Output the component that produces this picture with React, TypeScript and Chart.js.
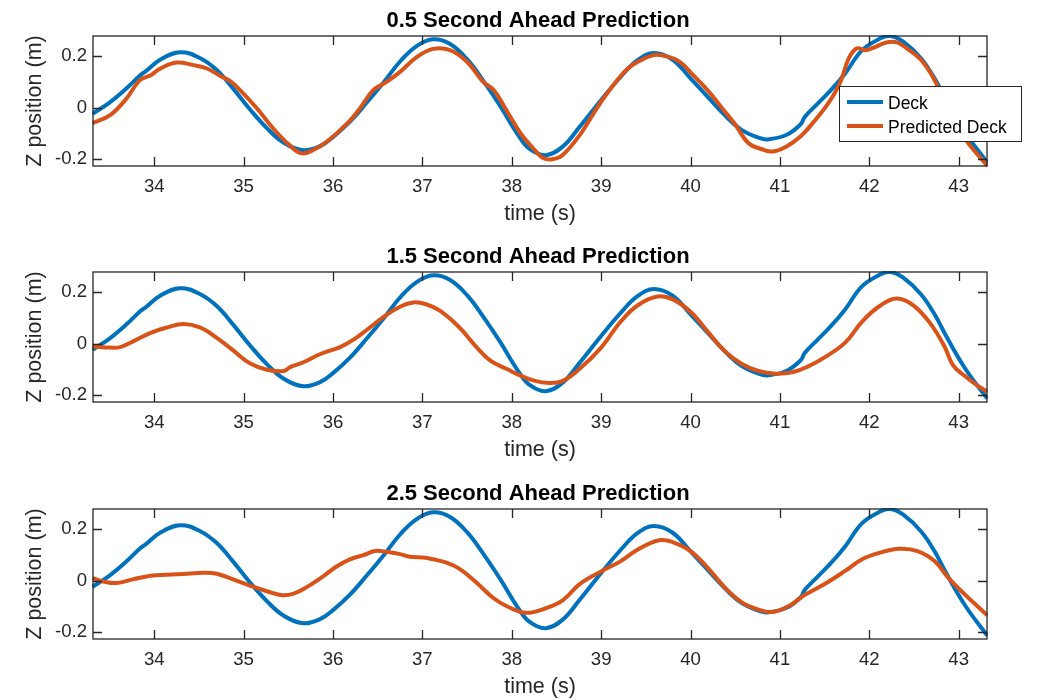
import React, { useEffect, useRef } from "react";
import { Chart, registerables } from "chart.js";

Chart.register(...registerables);

// ---------- data ----------
const deckTime = [33.31, 33.5, 33.69, 33.84, 33.9, 34.07, 34.29, 34.51, 34.7, 34.89, 35.07, 35.26, 35.45, 35.67, 35.86, 36.01, 36.19, 36.38, 36.57, 36.76, 36.94, 37.12, 37.31, 37.5, 37.68, 37.87, 38.07, 38.2, 38.38, 38.57, 38.76, 39.0, 39.22, 39.41, 39.59, 39.8, 40.0, 40.19, 40.38, 40.57, 40.76, 40.86, 41.07, 41.23, 41.28, 41.42, 41.57, 41.73, 41.92, 42.12, 42.23, 42.38, 42.58, 42.73, 42.88, 43.08, 43.32];
const deckZ = [-0.024, 0.02, 0.075, 0.125, 0.14, 0.187, 0.215, 0.193, 0.146, 0.071, -0.006, -0.079, -0.136, -0.165, -0.148, -0.111, -0.054, 0.021, 0.1, 0.183, 0.24, 0.265, 0.247, 0.188, 0.105, 0.007, -0.105, -0.16, -0.184, -0.151, -0.074, 0.03, 0.12, 0.185, 0.212, 0.186, 0.114, 0.043, -0.028, -0.086, -0.116, -0.123, -0.106, -0.065, -0.035, 0.015, 0.068, 0.133, 0.223, 0.268, 0.279, 0.256, 0.191, 0.114, 0.017, -0.1, -0.213];

const pred05Time = [33.31, 33.51, 33.69, 33.84, 33.96, 34.07, 34.25, 34.44, 34.59, 34.74, 34.85, 34.96, 35.15, 35.33, 35.52, 35.65, 35.78, 35.93, 36.16, 36.3, 36.45, 36.6, 36.75, 36.94, 37.12, 37.31, 37.5, 37.68, 37.8, 37.94, 38.1, 38.26, 38.35, 38.45, 38.57, 38.76, 39.0, 39.26, 39.41, 39.59, 39.72, 39.88, 40.03, 40.19, 40.34, 40.49, 40.65, 40.8, 40.92, 41.07, 41.23, 41.38, 41.54, 41.67, 41.77, 41.86, 41.96, 42.07, 42.19, 42.31, 42.42, 42.58, 42.73, 42.88, 43.08, 43.32];
const pred05Z = [-0.06, -0.028, 0.036, 0.107, 0.126, 0.152, 0.175, 0.165, 0.152, 0.123, 0.103, 0.068, -0.003, -0.08, -0.147, -0.177, -0.164, -0.132, -0.061, -0.003, 0.068, 0.1, 0.139, 0.197, 0.228, 0.223, 0.178, 0.1, 0.068, -0.01, -0.1, -0.165, -0.195, -0.2, -0.183, -0.106, 0.023, 0.139, 0.178, 0.204, 0.2, 0.178, 0.126, 0.068, 0.004, -0.06, -0.138, -0.161, -0.17, -0.151, -0.112, -0.054, 0.017, 0.094, 0.191, 0.23, 0.223, 0.236, 0.253, 0.253, 0.23, 0.185, 0.107, -0.01, -0.125, -0.225];

const pred15Time = [33.31, 33.51, 33.62, 33.77, 33.96, 34.14, 34.33, 34.51, 34.7, 34.89, 35.07, 35.26, 35.45, 35.52, 35.67, 35.86, 36.08, 36.23, 36.38, 36.57, 36.75, 36.9, 37.05, 37.2, 37.42, 37.61, 37.76, 37.94, 38.1, 38.26, 38.41, 38.57, 38.76, 39.0, 39.22, 39.41, 39.63, 39.8, 40.0, 40.19, 40.38, 40.57, 40.76, 40.96, 41.15, 41.3, 41.5, 41.73, 41.92, 42.12, 42.31, 42.5, 42.69, 42.84, 42.94, 43.08, 43.2, 43.32];
const pred15Z = [-0.011, -0.015, -0.013, 0.01, 0.042, 0.063, 0.076, 0.063, 0.023, -0.028, -0.076, -0.101, -0.106, -0.091, -0.072, -0.04, -0.013, 0.016, 0.054, 0.105, 0.143, 0.16, 0.152, 0.127, 0.061, -0.015, -0.066, -0.097, -0.124, -0.144, -0.152, -0.144, -0.097, -0.015, 0.086, 0.149, 0.183, 0.172, 0.124, 0.048, -0.028, -0.078, -0.106, -0.116, -0.11, -0.091, -0.053, 0.004, 0.086, 0.147, 0.175, 0.147, 0.075, -0.01, -0.085, -0.128, -0.16, -0.186];

const pred25Time = [33.31, 33.43, 33.58, 33.77, 33.96, 34.14, 34.37, 34.55, 34.7, 34.89, 35.07, 35.26, 35.43, 35.56, 35.71, 35.89, 36.04, 36.19, 36.34, 36.47, 36.6, 36.75, 36.86, 37.01, 37.12, 37.27, 37.42, 37.61, 37.79, 37.94, 38.15, 38.37, 38.57, 38.76, 39.0, 39.22, 39.41, 39.65, 39.8, 40.0, 40.19, 40.38, 40.57, 40.76, 40.92, 41.11, 41.27, 41.5, 41.73, 41.92, 42.11, 42.34, 42.54, 42.73, 42.88, 43.08, 43.32];
const pred25Z = [0.01, -0.003, -0.009, 0.006, 0.019, 0.023, 0.027, 0.031, 0.027, 0.004, -0.019, -0.041, -0.056, -0.05, -0.024, 0.017, 0.055, 0.083, 0.099, 0.115, 0.112, 0.103, 0.093, 0.09, 0.083, 0.07, 0.045, -0.009, -0.066, -0.098, -0.124, -0.108, -0.076, -0.013, 0.036, 0.076, 0.121, 0.157, 0.15, 0.115, 0.051, -0.025, -0.083, -0.112, -0.121, -0.096, -0.057, -0.013, 0.038, 0.083, 0.108, 0.124, 0.115, 0.076, 0.013, -0.057, -0.134];

const panelTitles = ["0.5 Second Ahead Prediction", "1.5 Second Ahead Prediction", "2.5 Second Ahead Prediction"];
const seriesNames = ["Deck", "Predicted Deck"];
const xTicks = [34, 35, 36, 37, 38, 39, 40, 41, 42, 43];
const xTickLabels = ["34", "35", "36", "37", "38", "39", "40", "41", "42", "43"];
const yTicks = [-0.2, 0, 0.2];
const yTickLabels = ["-0.2", "0", "0.2"];
const xLimits = [33.315, 43.317];
const yLimits = [-0.226, 0.278];
const xAxisTitle = "time (s)";
const yAxisTitle = "Z position (m)";

// ---------- style ----------
const FONT = "'Liberation Sans', Arial, Helvetica, sans-serif";
const AX = "#262626";
const BLUE = "#0072BD";
const ORANGE = "#D95319";
const CW = 1038;
const CH = 237;

const toPts = (t: number[], z: number[]) => t.map((x, i) => ({ x, y: z[i] }));

const framePlugin = {
  id: "matlabFrame",
  afterDatasetsDraw(chart: any) {
    const { ctx, chartArea } = chart;
    const { left, right, top, bottom } = chartArea;
    const xs = chart.scales.x;
    const ys = chart.scales.y;
    const tl = 9;
    ctx.save();
    ctx.strokeStyle = AX;
    ctx.lineWidth = 1.3;
    ctx.beginPath();
    for (const v of xTicks) {
      const px = Math.round(xs.getPixelForValue(v)) + 0.5;
      ctx.moveTo(px, bottom);
      ctx.lineTo(px, bottom - tl);
      ctx.moveTo(px, top);
      ctx.lineTo(px, top + tl);
    }
    for (const v of yTicks) {
      const py = Math.round(ys.getPixelForValue(v)) + 0.5;
      ctx.moveTo(left, py);
      ctx.lineTo(left + tl, py);
      ctx.moveTo(right, py);
      ctx.lineTo(right - tl, py);
    }
    ctx.stroke();
    ctx.strokeRect(left, top, right - left, bottom - top);
    ctx.restore();
  },
};

const titlePlugin = {
  id: "matlabTitle",
  afterDraw(chart: any, _args: any, opts: any) {
    const { ctx, chartArea } = chart;
    ctx.save();
    ctx.fillStyle = "#000000";
    ctx.font = `bold 22px ${FONT}`;
    ctx.textAlign = "center";
    ctx.textBaseline = "alphabetic";
    ctx.fillText(opts.text, (chartArea.left + chartArea.right) / 2 - 2, chartArea.top - 9.5);
    ctx.restore();
  },
};

const legendPlugin = {
  id: "matlabLegend",
  afterDraw(chart: any, _args: any, opts: any) {
    if (!opts.show) return;
    const { ctx, chartArea } = chart;
    const bx = chartArea.right - 148;
    const by = chartArea.top + 50;
    const bw = 182;
    const bh = 55;
    ctx.save();
    ctx.fillStyle = "#ffffff";
    ctx.fillRect(bx, by, bw, bh);
    ctx.strokeStyle = AX;
    ctx.lineWidth = 1;
    ctx.strokeRect(bx + 0.5, by + 0.5, bw, bh);
    const items = [
      { label: seriesNames[0], color: BLUE },
      { label: seriesNames[1], color: ORANGE },
    ];
    items.forEach((it, i) => {
      const cy = by + 16 + i * 24;
      ctx.strokeStyle = it.color;
      ctx.lineWidth = 4;
      ctx.beginPath();
      ctx.moveTo(bx + 8, cy);
      ctx.lineTo(bx + 44, cy);
      ctx.stroke();
      ctx.fillStyle = "#000000";
      ctx.font = `17.5px ${FONT}`;
      ctx.textAlign = "left";
      ctx.textBaseline = "alphabetic";
      ctx.fillText(it.label, bx + 49, cy + 6.5);
    });
    ctx.restore();
  },
};

function Panel({ idx, predTime, predZ, top }: { idx: number; predTime: number[]; predZ: number[]; top: number }) {
  const ref = useRef<HTMLCanvasElement | null>(null);
  useEffect(() => {
    if (!ref.current) return;
    const chart = new Chart(ref.current, {
      type: "line",
      data: {
        datasets: [
          {
            label: seriesNames[0],
            data: toPts(deckTime, deckZ),
            borderColor: BLUE,
            backgroundColor: BLUE,
            borderWidth: 4,
            pointRadius: 0,
            tension: 0.4,
            order: 2,
            clip: 1,
          },
          {
            label: seriesNames[1],
            data: toPts(predTime, predZ),
            borderColor: ORANGE,
            backgroundColor: ORANGE,
            borderWidth: 4,
            pointRadius: 0,
            tension: 0.4,
            order: 1,
            clip: 1,
          },
        ],
      },
      options: {
        animation: false,
        responsive: false,
        maintainAspectRatio: false,
        events: [],
        layout: { padding: { top: 36, right: 51, left: 0, bottom: 0 }, autoPadding: false },
        plugins: {
          legend: { display: false },
          tooltip: { enabled: false },
          title: { display: false },
          matlabTitle: { text: panelTitles[idx] },
          matlabLegend: { show: idx === 0 },
        } as any,
        scales: {
          x: {
            type: "linear",
            min: xLimits[0],
            max: xLimits[1],
            afterBuildTicks: (s: any) => {
              s.ticks = xTicks.map((v) => ({ value: v }));
            },
            afterFit: (s: any) => {
              s.height = 71;
            },
            grid: { display: false, drawTicks: false },
            border: { display: false },
            ticks: {
              autoSkip: false,
              maxRotation: 0,
              padding: 10,
              color: AX,
              font: { family: FONT, size: 18.6 },
              callback: (v: any) => xTickLabels[xTicks.indexOf(Number(v))],
            },
            title: {
              display: true,
              text: xAxisTitle,
              color: AX,
              font: { family: FONT, size: 21.5 },
              padding: { top: 0, bottom: 10.5 },
            },
          },
          y: {
            type: "linear",
            min: yLimits[0],
            max: yLimits[1],
            afterBuildTicks: (s: any) => {
              s.ticks = yTicks.map((v) => ({ value: v }));
            },
            afterFit: (s: any) => {
              s.width = 93;
            },
            grid: { display: false, drawTicks: false },
            border: { display: false },
            ticks: {
              autoSkip: false,
              padding: 6,
              color: AX,
              font: { family: FONT, size: 18.6 },
              callback: (v: any) => yTickLabels[yTicks.indexOf(Number(v))],
            },
            title: {
              display: true,
              text: yAxisTitle,
              color: AX,
              font: { family: FONT, size: 21.5 },
              padding: { top: 22, bottom: 0 },
            },
          },
        },
      },
      plugins: [framePlugin, titlePlugin, legendPlugin],
    } as any);
    return () => chart.destroy();
  }, []);
  return (
    <canvas
      ref={ref}
      width={CW}
      height={CH}
      style={{ position: "absolute", left: 0, top, width: CW, height: CH, display: "block" }}
    />
  );
}

export default function App() {
  return (
    <div style={{ position: "absolute", left: 0, top: 0, width: CW, height: 700, background: "#ffffff", overflow: "hidden" }}>
      <Panel idx={0} predTime={pred05Time} predZ={pred05Z} top={0} />
      <Panel idx={1} predTime={pred15Time} predZ={pred15Z} top={236} />
      <Panel idx={2} predTime={pred25Time} predZ={pred25Z} top={473} />
    </div>
  );
}
